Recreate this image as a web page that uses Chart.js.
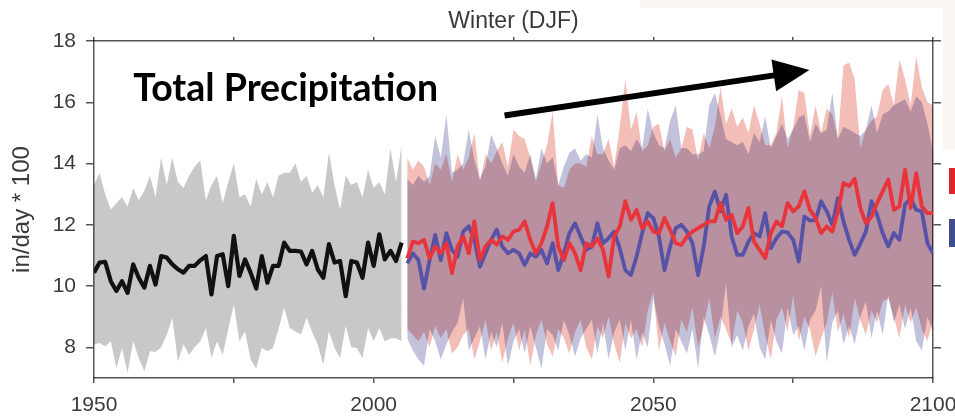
<!DOCTYPE html>
<html>
<head>
<meta charset="utf-8">
<script src="https://cdn.jsdelivr.net/npm/chart.js@4.4.0/dist/chart.umd.min.js"></script>
<style>
    html, body { margin: 0; padding: 0; background: #fff; }
</style>
</head>
<body>
<canvas id="chart-winter-precip" width="955" height="418"></canvas>
<script>
// Years
const histStart = 1950;
const futStart = 2006;

// Historical (1950-2005): ensemble mean + range
const histMean = [
    10.44, 10.77, 10.79, 10.16, 9.84, 10.16, 9.78, 10.71, 10.27, 9.95,
    10.66, 10.05, 10.98, 10.93, 10.71, 10.55, 10.44, 10.66, 10.66, 10.84,
    10.98, 9.73, 10.98, 11.04, 10.0, 11.64, 10.33, 10.87, 10.44, 9.92,
    10.98, 10.11, 10.66, 10.66, 11.42, 11.15, 11.15, 11.13, 10.71, 11.15,
    10.55, 10.27, 11.37, 10.77, 10.82, 9.67, 10.82, 10.77, 10.27, 11.42,
    10.66, 11.69, 10.87, 11.15, 10.82, 11.42,
];
const histHigh = [
    13.3, 13.7, 13.0, 12.5, 12.7, 12.9, 12.6, 13.2, 12.8, 13.1,
    13.6, 12.9, 14.2, 13.3, 14.2, 13.4, 13.2, 13.6, 13.9, 14.1,
    12.8, 13.3, 13.6, 12.7, 13.4, 14.0, 12.9, 13.0, 12.6, 13.5,
    13.0, 13.4, 12.9, 13.6, 13.7, 13.7, 14.0, 13.4, 13.6, 13.05,
    13.3, 12.9, 14.35, 13.3, 12.5, 13.6, 13.3, 13.4, 12.9, 13.8,
    13.2, 13.4, 13.0, 14.5, 13.4, 14.6,
];
const histLow = [
    8.09, 8.14, 8.03, 8.2, 7.32, 7.98, 7.16, 8.2, 7.65, 7.21,
    7.87, 7.85, 8.0, 8.4, 8.96, 7.54, 8.09, 7.76, 8.0, 8.2,
    8.63, 7.65, 8.2, 7.76, 8.6, 9.4, 8.2, 8.52, 7.6, 7.32,
    7.98, 7.87, 7.98, 8.6, 9.29, 8.63, 8.52, 8.42, 8.96, 8.5,
    8.09, 7.43, 8.52, 7.98, 7.65, 8.7, 8.0, 7.98, 7.65, 8.63,
    8.2, 8.63, 8.2, 8.3, 8.3, 8.2,
];

// Future (2006-2100), red scenario
const redMean = [
    10.9, 11.45, 11.4, 11.51, 10.91, 11.29, 11.07, 11.4, 10.42, 11.29,
    11.62, 11.07, 12.11, 10.85, 11.29, 11.51, 11.35, 11.62, 11.51, 11.78,
    11.84, 12.11, 11.51, 11.07, 11.4, 11.95, 12.71, 11.29, 10.85, 11.4,
    11.07, 10.52, 11.4, 11.29, 11.56, 11.18, 10.31, 11.62, 11.95, 12.77,
    12.16, 12.49, 11.89, 12.11, 11.78, 11.73, 12.22, 11.84, 11.4, 11.34,
    11.62, 11.78, 11.89, 12.0, 12.11, 12.11, 12.71, 12.16, 12.33, 11.73,
    11.95, 12.55, 11.45, 11.18, 10.91, 11.73, 12.11, 11.95, 12.71, 12.44,
    12.6, 13.09, 12.49, 12.22, 11.73, 11.95, 11.78, 12.44, 13.37, 13.26,
    13.5, 12.55, 12.05, 12.27, 12.71, 13.09, 13.48, 12.49, 12.6, 13.8,
    12.55, 13.69, 12.6, 12.38, 12.38,
];
const redHigh = [
    14.2, 13.8, 14.1, 13.9, 13.3, 14.0, 13.8, 14.3, 13.4, 14.3,
    13.8, 14.2, 15.0, 13.4, 14.3, 14.0, 14.4, 14.7, 13.9, 15.1,
    14.9, 14.8, 14.2, 13.4, 14.0, 14.6, 15.7, 13.3, 13.2, 13.8,
    14.0, 14.0, 13.9, 14.9, 14.3, 14.3, 14.8, 13.9, 15.2, 16.75,
    15.1, 15.7, 14.4, 14.6, 15.2, 15.3, 14.4, 14.8, 14.2, 14.5,
    15.2, 15.1, 14.1, 15.0, 14.5, 15.2, 16.5, 15.3, 15.8, 15.2,
    15.5, 15.0, 15.9, 15.3, 14.6, 14.6, 15.0, 16.2, 14.5, 15.2,
    16.4, 16.3, 14.9, 15.9, 15.0, 15.8, 15.6, 14.8, 17.2, 17.3,
    16.75, 14.5, 15.1, 15.4, 15.55, 16.4, 16.6, 15.9, 17.4, 16.75,
    15.9, 17.5, 16.5, 16.0, 15.9,
];
const redLow = [
    8.6, 8.4, 8.2, 8.5, 8.0, 8.7, 8.3, 8.6, 7.8, 8.0,
    8.4, 8.6, 7.6, 8.2, 8.9, 7.9, 8.5, 7.5, 8.3, 8.8,
    7.9, 8.6, 7.4, 8.4, 8.9, 8.1, 7.7, 8.6, 8.3, 7.8,
    8.5, 8.9, 8.0, 7.6, 8.7, 8.3, 9.0, 8.1, 7.5, 8.8,
    8.3, 8.6, 8.0, 9.2, 9.8, 7.9, 8.8, 8.2, 7.7, 8.9,
    8.5, 9.3, 8.0, 8.7, 9.6, 8.3, 9.0, 8.6, 8.1, 9.2,
    8.8, 7.9, 8.6, 9.4, 8.4, 7.6, 8.9, 9.3, 8.5, 9.7,
    8.2, 9.0, 8.6, 7.7, 8.3, 8.8, 9.8, 8.5, 9.1, 8.3,
    9.6, 8.9, 8.4, 9.2, 8.8, 9.5, 9.6, 9.0, 8.3, 9.4,
    8.8, 9.3, 8.6, 8.2, 8.9,
];

// Future (2006-2100), blue scenario
const blueMean = [
    10.74, 11.07, 10.85, 9.92, 10.85, 11.67, 10.85, 11.73, 11.18, 10.96,
    11.78, 11.95, 11.51, 10.63, 11.07, 11.51, 11.84, 11.29, 11.07, 11.18,
    11.07, 10.69, 11.07, 10.96, 11.18, 10.74, 11.4, 10.52, 11.07, 11.73,
    12.05, 11.62, 11.18, 11.29, 12.05, 11.4, 11.56, 11.78, 11.23, 10.52,
    10.36, 10.96, 11.73, 12.38, 12.22, 11.62, 10.52, 11.29, 11.89, 12.0,
    11.78, 11.4, 10.36, 11.29, 12.6, 13.09, 12.44, 12.98, 11.62, 11.02,
    11.02, 11.45, 11.73, 11.62, 12.38, 11.23, 11.56, 11.78, 11.75, 11.51,
    10.8, 12.27, 12.14, 12.16, 12.77, 12.44, 12.0, 12.87, 12.11, 11.51,
    11.02, 11.38, 11.78, 12.77, 12.33, 11.73, 11.29, 11.73, 11.51, 12.66,
    12.87, 12.49, 12.44, 11.4, 11.07,
];
const blueHigh = [
    13.5, 13.3, 13.6, 13.4, 13.6, 14.9, 14.2, 15.6, 13.7, 13.8,
    14.0, 15.1, 14.1, 13.5, 13.9, 14.95, 14.5, 14.0, 13.6, 14.3,
    13.9, 13.7, 14.3, 13.5, 14.5, 14.0, 14.2, 13.3, 13.9, 14.35,
    14.5, 14.1, 14.3, 14.2, 15.6, 14.5, 14.1, 13.8, 14.5, 14.6,
    14.4, 14.8, 14.5, 15.8, 15.0, 14.6, 14.5, 15.4, 15.9, 14.5,
    14.5, 14.3, 14.3, 14.4, 15.9, 16.3, 15.6, 14.8, 14.7, 14.6,
    14.7, 14.3, 15.0, 14.7, 15.55, 14.5, 14.9, 15.3, 14.8, 15.1,
    15.5, 15.6, 14.7, 15.3, 15.0, 15.1, 16.3, 14.8, 15.2, 15.1,
    15.0, 14.9, 15.1, 15.9, 15.0, 15.6, 15.7, 15.9, 16.0, 16.1,
    15.7, 16.2, 16.0, 15.3, 14.4,
];
const blueLow = [
    8.3, 7.9, 7.6, 7.4, 8.6, 8.2, 7.6, 8.1, 8.5, 8.8,
    9.6, 7.9, 8.3, 8.7, 7.6, 8.5, 8.0, 8.8, 7.4, 8.2,
    8.6, 7.8, 8.7, 8.0, 7.3, 8.6, 8.4, 7.9, 8.9, 8.4,
    7.7, 8.3, 8.6, 8.9, 7.8, 8.8, 7.6, 8.5, 8.9, 7.9,
    8.9, 7.6, 8.5, 8.0, 9.6, 8.7, 8.1, 7.4, 8.6, 8.2,
    7.8, 8.6, 7.3, 9.0, 8.4, 7.7, 8.6, 10.1, 8.0, 8.4,
    7.9, 8.7, 9.1, 8.0, 7.6, 8.9, 8.2, 7.8, 9.3, 8.4,
    8.7, 7.9, 8.9, 9.2, 10.0, 7.5, 8.8, 9.2, 8.1, 8.7,
    8.1, 9.0, 9.5, 8.3, 9.2, 8.4, 9.7, 8.8, 9.4, 8.6,
    9.3, 8.2, 7.9, 9.0, 8.5,
];

// Axis ticks
const xTicks = [1950, 1975, 2000, 2025, 2050, 2075, 2100];
const xLabels = [1950, 2000, 2050, 2100];
const yTicks = [8, 10, 12, 14, 16, 18];

// Annotation positions (data units)
const headlinePos = [1957, 16.03];
const arrowFrom = [2023.4, 15.57];
const arrowTo = [2077.9, 17.05];

const histYears = histMean.map((_, i) => histStart + i);
const futYears = redMean.map((_, i) => futStart + i);
const pts = (years, vals) => vals.map((v, i) => ({ x: years[i], y: v }));

const FONT = "'Liberation Sans', Arial, sans-serif";
const AXIS = "#555";
const TEXT = "#3a3a3a";

// bands are painted with "multiply" so the red/blue overlap turns mauve
const blendPlugin = {
    id: "blend",
    beforeDraw(chart) {
        const ctx = chart.ctx;
        ctx.save();
        ctx.fillStyle = "#fbf6f1";
        ctx.fillRect(640, 0, 315, 8);
        ctx.fillRect(943, 0, 12, 150);
        ctx.restore();
        ctx.globalCompositeOperation = "multiply";
    },
    beforeDatasetsDraw(chart) {
        chart.ctx.globalCompositeOperation = "source-over";
    },
};

const notesPlugin = {
    id: "notes",
    afterDraw(chart) {
        const { ctx, chartArea } = chart;
        const sx = chart.scales.x;
        const sy = chart.scales.y;
        ctx.save();

        ctx.fillStyle = TEXT;
        ctx.font = "23px " + FONT;
        ctx.textAlign = "center";
        ctx.textBaseline = "middle";
        ctx.fillText("Winter (DJF)", (chartArea.left + chartArea.right) / 2, 22);

        ctx.fillStyle = "#000";
        ctx.font = "bold 37.5px Lato, 'Open Sans', sans-serif";
        ctx.textAlign = "left";
        ctx.textBaseline = "alphabetic";
        ctx.fillText(
            "Total Precipitation",
            sx.getPixelForValue(headlinePos[0]),
            sy.getPixelForValue(headlinePos[1])
        );

        // trend arrow
        const x0 = sx.getPixelForValue(arrowFrom[0]);
        const y0 = sy.getPixelForValue(arrowFrom[1]);
        const x1 = sx.getPixelForValue(arrowTo[0]);
        const y1 = sy.getPixelForValue(arrowTo[1]);
        const a = Math.atan2(y1 - y0, x1 - x0);
        const headLen = 36, headW = 16;
        const bx = x1 - headLen * Math.cos(a);
        const by = y1 - headLen * Math.sin(a);
        ctx.strokeStyle = "#000";
        ctx.lineWidth = 6;
        ctx.beginPath();
        ctx.moveTo(x0, y0);
        ctx.lineTo(bx + 2 * Math.cos(a), by + 2 * Math.sin(a));
        ctx.stroke();
        ctx.beginPath();
        ctx.moveTo(x1, y1);
        ctx.lineTo(bx + headW * Math.sin(a), by - headW * Math.cos(a));
        ctx.lineTo(bx - headW * Math.sin(a), by + headW * Math.cos(a));
        ctx.closePath();
        ctx.fill();

        // legend keys cut off at the right edge
        ctx.fillStyle = "#e0262c";
        ctx.fillRect(chartArea.right + 16, 168, 10, 26);
        ctx.fillStyle = "#3f4c90";
        ctx.fillRect(chartArea.right + 16, 219, 10, 28);

        ctx.restore();
    },
};

const band = (label, years, vals, color, fill, order) => ({
    label,
    data: pts(years, vals),
    backgroundColor: color,
    borderColor: "rgba(0,0,0,0)",
    borderWidth: 0,
    pointRadius: 0,
    fill,
    order,
});
const line = (label, years, vals, color, width, order) => ({
    label,
    data: pts(years, vals),
    borderColor: color,
    borderWidth: width,
    borderJoinStyle: "round",
    pointRadius: 0,
    fill: false,
    tension: 0,
    order,
});

const tickFont = { family: FONT, size: 21 };

new Chart(document.getElementById("chart-winter-precip"), {
    type: "line",
    data: {
        datasets: [
            band("hist high", histYears, histHigh, "#c8c8c8", "+1", 20),
            band("hist low", histYears, histLow, "#c8c8c8", false, 21),
            band("red high", futYears, redHigh, "#f3bdb8", "+1", 22),
            band("red low", futYears, redLow, "#f3bdb8", false, 23),
            band("blue high", futYears, blueHigh, "#c2c2dc", "+1", 24),
            band("blue low", futYears, blueLow, "#c2c2dc", false, 25),
            line("historical", histYears, histMean, "#111", 4.2, 3),
            line("blue", futYears, blueMean, "#5552a8", 3.8, 2),
            line("red", futYears, redMean, "#e8343a", 3.8, 1),
        ],
    },
    options: {
        responsive: false,
        animation: false,
        events: [],
        layout: { padding: 0 },
        plugins: {
            legend: { display: false },
            tooltip: { enabled: false },
            filler: { drawTime: "beforeDatasetsDraw" },
        },
        scales: {
            x: {
                type: "linear",
                position: "bottom",
                min: 1950,
                max: 2100,
                afterBuildTicks: (axis) => {
                    axis.ticks = xTicks.map((v) => ({ value: v }));
                },
                afterFit: (axis) => {
                    axis.height = 40;
                    axis.paddingLeft = 0;
                    axis.paddingRight = 0;
                },
                ticks: {
                    callback: (v) => (xLabels.includes(v) ? String(v) : ""),
                    maxRotation: 0,
                    autoSkip: false,
                    color: TEXT,
                    font: tickFont,
                    padding: 10,
                },
                grid: { drawOnChartArea: false, tickLength: 5, color: AXIS, lineWidth: 1.5 },
                border: { display: true, color: AXIS, width: 1.5 },
            },
            x2: {
                type: "linear",
                position: "top",
                min: 1950,
                max: 2100,
                afterBuildTicks: (axis) => {
                    axis.ticks = xTicks.map((v) => ({ value: v }));
                },
                afterFit: (axis) => {
                    axis.height = 41;
                    axis.paddingLeft = 0;
                    axis.paddingRight = 0;
                },
                ticks: { display: false },
                grid: { drawOnChartArea: false, tickLength: 4, color: AXIS, lineWidth: 1.5 },
                border: { display: true, color: AXIS, width: 1.5 },
            },
            y: {
                type: "linear",
                position: "left",
                min: 7,
                max: 18,
                afterBuildTicks: (axis) => {
                    axis.ticks = yTicks.map((v) => ({ value: v }));
                },
                afterFit: (axis) => {
                    axis.width = 94;
                },
                ticks: { color: TEXT, font: tickFont, padding: 10 },
                grid: { drawOnChartArea: false, tickLength: 8, color: AXIS, lineWidth: 1.5 },
                border: { display: true, color: AXIS, width: 1.5 },
                title: {
                    display: true,
                    text: "in/day * 100",
                    color: TEXT,
                    font: { family: FONT, size: 24 },
                    padding: { top: 8, bottom: 0 },
                },
            },
            y2: {
                type: "linear",
                position: "right",
                min: 7,
                max: 18,
                afterBuildTicks: (axis) => {
                    axis.ticks = yTicks.map((v) => ({ value: v }));
                },
                afterFit: (axis) => {
                    axis.width = 22;
                },
                ticks: { display: false },
                grid: { drawOnChartArea: false, tickLength: 8, color: AXIS, lineWidth: 1.5 },
                border: { display: true, color: AXIS, width: 1.5 },
            },
        },
    },
    plugins: [blendPlugin, notesPlugin],
});
</script>
</body>
</html>
